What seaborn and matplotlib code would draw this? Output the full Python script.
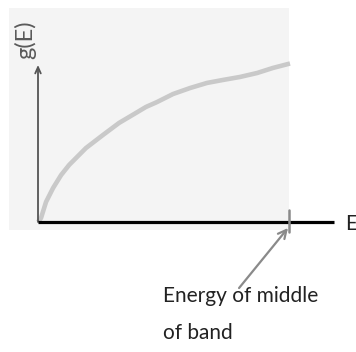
import matplotlib
matplotlib.use("Agg")
import matplotlib.pyplot as plt
from matplotlib.patches import Rectangle
import pandas as pd
import seaborn as sns

# Density of states g(E) versus energy, in units where the band middle is E = 1
energy = [0.0, 0.012, 0.032, 0.060, 0.092, 0.124, 0.191, 0.259, 0.323,
          0.390, 0.430, 0.474, 0.538, 0.606, 0.673, 0.737, 0.805, 0.873,
          0.936, 1.004]
density = [0.0, 0.025, 0.127, 0.215, 0.297, 0.361, 0.468, 0.551, 0.627,
           0.690, 0.728, 0.759, 0.810, 0.848, 0.880, 0.899, 0.918, 0.943,
           0.975, 1.003]
band_middle = 1.0

y_label = "g(E)"
x_label = "E"
note_lines = ["Energy of middle", "of band"]

sns.set_style("white")
plt.rcParams["font.family"] = ["Lato", "DejaVu Sans"]

fig = plt.figure(figsize=(3.56, 3.52), dpi=100)
ax = fig.add_axes([0, 0, 1, 1])
ax.set_xlim(-0.1514, 1.2669)
ax.set_ylim(-0.8228, 1.405)
ax.axis("off")

# light panel behind the plot
ax.add_patch(Rectangle((-0.1155, -0.0506), band_middle + 0.1155, 1.405,
                       facecolor="#f4f4f4", edgecolor="none", zorder=0))

df = pd.DataFrame({"E": energy, "g": density})
sns.lineplot(data=df, x="E", y="g", ax=ax, color="#c9c9c9", lw=3.3,
             solid_capstyle="butt", solid_joinstyle="round", zorder=2)

# vertical axis with arrow
ax.annotate("", xy=(0, 0.994), xytext=(0, 0),
            arrowprops=dict(arrowstyle="->,head_length=0.45,head_width=0.2",
                            color="#555555", lw=1.3, shrinkA=0, shrinkB=0),
            zorder=3)
# horizontal axis
ax.plot([0, 1.179], [0, 0], color="black", lw=2.3, solid_capstyle="butt",
        zorder=4)
# tick at the band middle
ax.plot([band_middle, band_middle], [0.076, -0.063], color="#8a8a8a", lw=1.8,
        zorder=5)

ax.text(-0.050, 1.152, y_label, rotation=90, ha="center", va="center",
        fontsize=17, color="#5a5a5a")
ax.text(1.225, -0.012, x_label, ha="left", va="center", fontsize=15,
        color="#222222")

# annotation pointing at the band middle
ax.annotate("", xy=(0.996, -0.038), xytext=(0.801, -0.418),
            arrowprops=dict(arrowstyle="->,head_length=0.6,head_width=0.3",
                            color="#8a8a8a", lw=1.6, shrinkA=0, shrinkB=0),
            zorder=5)
ax.text(0.498, -0.506, note_lines[0], ha="left", va="baseline", fontsize=15,
        color="#222222")
ax.text(0.498, -0.741, note_lines[1], ha="left", va="baseline", fontsize=15,
        color="#222222")

fig.savefig("out.png", dpi=100, facecolor="white")
